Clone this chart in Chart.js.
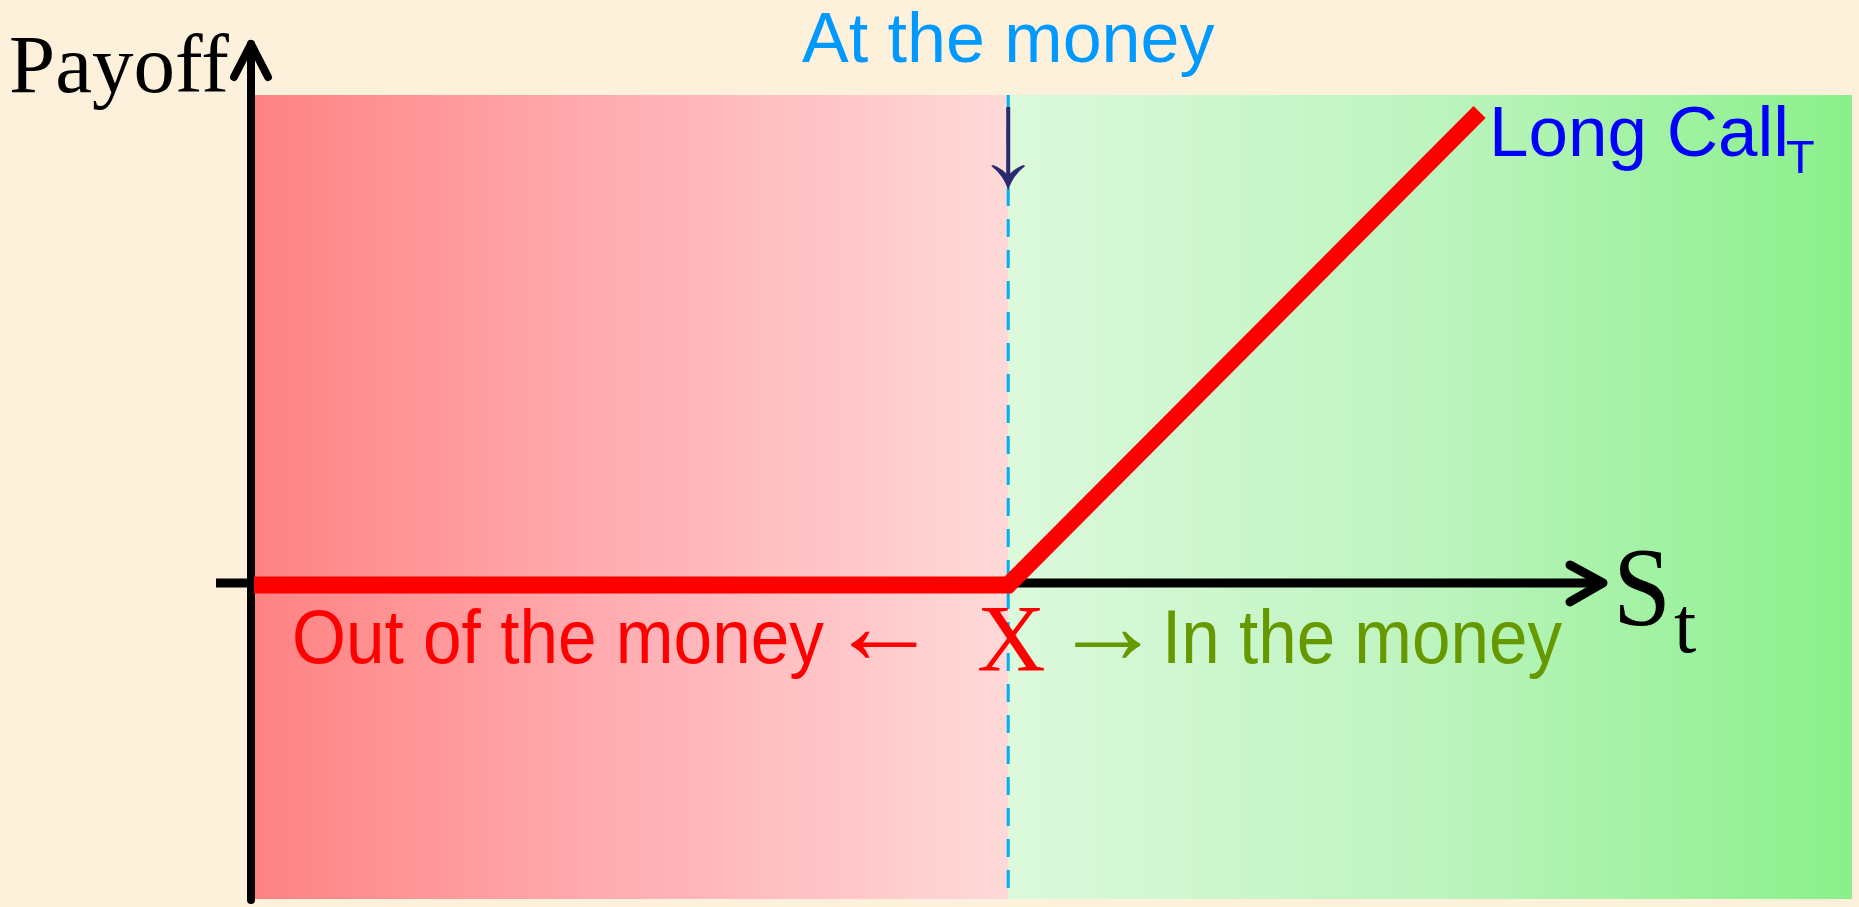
<!DOCTYPE html>
<html>
<head>
<meta charset="utf-8">
<script src="https://cdn.jsdelivr.net/npm/chart.js@4/dist/chart.umd.min.js"></script>
<style>
html,body{margin:0;padding:0;background:#FDF1DC;}
#wrap{width:1859px;height:907px;position:relative;}
</style>
</head>
<body>
<div id="wrap"><canvas id="c"></canvas></div>
<script>
// Data
const stockPrices = [0, 8, 13];      // S_T values
const payoffs     = [0, 0, 5];       // long call payoff max(S-X,0)
const strike      = 8;               // X
const xRange      = [0, 16.95];
const yRange      = [-3.32, 5.18];
const labels = {
  yTitle: 'Payoff',
  atMoney: 'At the money',
  series: 'Long Call',
  seriesSub: 'T',
  outMoney: 'Out of the money',
  leftArrow: '←',
  strikeLabel: 'X',
  rightArrow: '→',
  inMoney: 'In the money',
  xTitle: 'S',
  xTitleSub: 't'
};

const SANS = '"Liberation Sans", Arial, sans-serif';
const SERIF = '"Liberation Serif", "Times New Roman", serif';

const bgPlugin = {
  id: 'bg',
  beforeDraw(chart) {
    const {ctx, chartArea: a, scales: {x}} = chart;
    ctx.save();
    ctx.fillStyle = '#FDF1DC';
    ctx.fillRect(0, 0, chart.width, chart.height);
    const xs = x.getPixelForValue(strike);
    let g = ctx.createLinearGradient(a.left, 0, xs, 0);
    g.addColorStop(0, '#FF8282');
    g.addColorStop(0.5, '#FFAFB4');
    g.addColorStop(1, '#FFD9D9');
    ctx.fillStyle = g;
    ctx.fillRect(a.left, a.top, xs - a.left, a.bottom - a.top);
    g = ctx.createLinearGradient(xs, 0, a.right, 0);
    g.addColorStop(0, '#DCF9DC');
    g.addColorStop(0.5, '#BDF4BF');
    g.addColorStop(1, '#8AF08A');
    ctx.fillStyle = g;
    ctx.fillRect(xs, a.top, a.right - xs, a.bottom - a.top);
    // dashed at-the-money line
    ctx.strokeStyle = '#00B0F0';
    ctx.lineWidth = 3;
    ctx.setLineDash([18, 13]);
    ctx.beginPath();
    ctx.moveTo(xs, a.top);
    ctx.lineTo(xs, a.bottom);
    ctx.stroke();
    ctx.setLineDash([]);
    // axes
    const y0 = chart.scales.y.getPixelForValue(0);
    const ax = a.left - 3;
    ctx.strokeStyle = '#000';
    ctx.lineCap = 'round';
    ctx.lineJoin = 'round';
    ctx.lineWidth = 8;
    ctx.beginPath();
    ctx.moveTo(ax, a.bottom + 1);
    ctx.lineTo(ax, 44);
    ctx.stroke();
    ctx.beginPath();
    ctx.moveTo(ax - 17, 77);
    ctx.lineTo(ax, 44);
    ctx.lineTo(ax + 17, 77);
    ctx.stroke();
    ctx.lineWidth = 9;
    ctx.lineCap = 'butt';
    ctx.beginPath();
    ctx.moveTo(216, y0 - 2);
    ctx.lineTo(1602, y0 - 2);
    ctx.stroke();
    ctx.lineCap = 'round';
    ctx.beginPath();
    ctx.moveTo(1570, y0 - 20);
    ctx.lineTo(1603, y0 - 2);
    ctx.lineTo(1570, y0 + 17);
    ctx.stroke();
    // at the money arrow
    ctx.strokeStyle = '#2B2A70';
    ctx.fillStyle = '#2B2A70';
    ctx.lineWidth = 4;
    ctx.lineCap = 'butt';
    ctx.beginPath();
    ctx.moveTo(xs, 107);
    ctx.lineTo(xs, 180);
    ctx.stroke();
    ctx.beginPath();
    ctx.moveTo(xs, 190);
    ctx.quadraticCurveTo(xs - 5, 175, xs - 17, 166);
    ctx.lineTo(xs - 15, 165);
    ctx.quadraticCurveTo(xs - 5, 169, xs, 176);
    ctx.quadraticCurveTo(xs + 5, 169, xs + 15, 165);
    ctx.lineTo(xs + 17, 166);
    ctx.quadraticCurveTo(xs + 5, 175, xs, 190);
    ctx.closePath();
    ctx.fill();
    ctx.restore();
  },
  afterDatasetsDraw(chart) {
    const {ctx, scales: {x, y}} = chart;
    const xs = x.getPixelForValue(strike);
    ctx.save();
    ctx.textBaseline = 'alphabetic';
    ctx.textAlign = 'left';
    ctx.fillStyle = '#000';
    ctx.font = '83px ' + SERIF;
    ctx.fillText(labels.yTitle, 9, 92);
    ctx.textAlign = 'center';
    ctx.fillStyle = '#0099FF';
    ctx.font = '70px ' + SANS;
    ctx.fillText(labels.atMoney, xs, 62);
    // series label next to line end
    ctx.textAlign = 'left';
    ctx.fillStyle = '#0000FF';
    ctx.font = '71px ' + SANS;
    const lx = 1489;
    ctx.fillText(labels.series, lx, 156);
    const w = ctx.measureText(labels.series).width;
    ctx.font = '47px ' + SANS;
    ctx.fillText(labels.seriesSub, lx + w - 3, 173);
    // out of the money
    ctx.fillStyle = '#FF0000';
    ctx.font = '76px ' + SANS;
    ctx.fillText(labels.outMoney, 292, 663, 532);
    ctx.font = '110px ' + SERIF;
    ctx.fillText(labels.leftArrow, 829, 663);
    ctx.font = '95px ' + SERIF;
    ctx.fillText(labels.strikeLabel, 977, 671);
    ctx.fillStyle = '#669900';
    ctx.font = '110px ' + SERIF;
    ctx.fillText(labels.rightArrow, 1053, 663);
    ctx.font = '76px ' + SANS;
    ctx.fillText(labels.inMoney, 1162, 663, 400);
    ctx.fillStyle = '#000';
    ctx.font = '112px ' + SERIF;
    ctx.fillText(labels.xTitle, 1613, 625, 58);
    ctx.font = '80px ' + SERIF;
    ctx.fillText(labels.xTitleSub, 1674, 652);
    ctx.restore();
  }
};

new Chart(document.getElementById('c'), {
  type: 'line',
  data: {
    datasets: [{
      label: labels.series + labels.seriesSub,
      data: stockPrices.map((s, i) => ({x: s, y: payoffs[i]})),
      borderColor: '#FF0000',
      borderWidth: 17,
      borderJoinStyle: 'miter',
      borderCapStyle: 'butt',
      pointRadius: 0,
      fill: false,
      tension: 0,
      clip: false
    }]
  },
  options: {
    responsive: true,
    maintainAspectRatio: false,
    animation: false,
    layout: {padding: {left: 254, right: 7, top: 95, bottom: 8}},
    plugins: {legend: {display: false}, tooltip: {enabled: false}},
    scales: {
      x: {type: 'linear', min: xRange[0], max: xRange[1], display: false},
      y: {type: 'linear', min: yRange[0], max: yRange[1], display: false}
    }
  },
  plugins: [bgPlugin]
});
</script>
</body>
</html>
